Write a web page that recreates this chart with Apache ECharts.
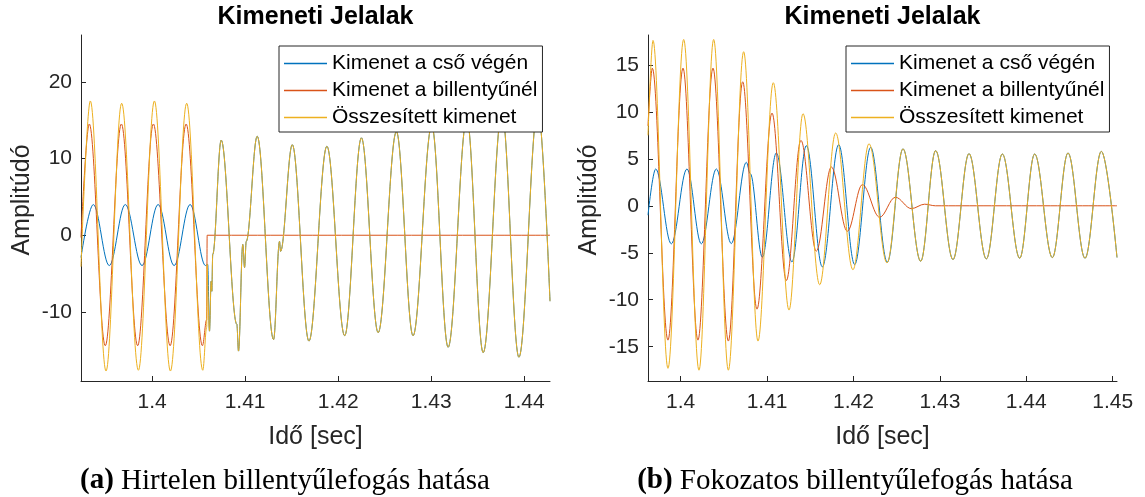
<!DOCTYPE html>
<html>
<head>
<meta charset="utf-8">
<script src="https://cdn.jsdelivr.net/npm/echarts@6/dist/echarts.min.js"></script>
<style>
html,body{margin:0;padding:0;background:#fff;}
#c{width:1145px;height:497px;}
</style>
</head>
<body>
<div id="c"></div>
<script>
// ---------- texts ----------
const seriesNames = ['Kimenet a cső végén', 'Kimenet a billentyűnél', 'Összesített kimenet'];
const chartTitle = 'Kimeneti Jelalak';
const yName = 'Amplitúdó';
const xName = 'Idő [sec]';
const captionA = ['(a)', 'Hirtelen billentyűlefogás hatása'];
const captionB = ['(b)', 'Fokozatos billentyűlefogás hatása'];

// ---------- ticks ----------
const xTicksA = [1.40, 1.41, 1.42, 1.43, 1.44];
const xTicksB = [1.40, 1.41, 1.42, 1.43, 1.44, 1.45];
const yTicksA = [-10, 0, 10, 20];
const yTicksB = [-15, -10, -5, 0, 5, 10, 15];

// ---------- chart (a): [time s, amplitude] ----------
const aBluePre = [[1.39236,-2.9],[1.39368,4.0],[1.39540,-3.95],[1.39712,4.0],[1.39892,-3.95],
  [1.40065,4.0],[1.40237,-3.95],[1.40409,4.0],[1.40574,-3.95]];
const aOrange = [[1.39236,-0.3],[1.39325,14.5],[1.39497,-14.4],[1.39670,14.5],[1.39845,-14.4],
  [1.40014,14.5],[1.40194,-14.4],[1.40366,14.5],[1.40541,-14.4],[1.40587,-11.0],[1.40592,0],[1.44277,0]];
const aYellowPre = [[1.39236,-4.1],[1.39336,17.5],[1.39505,-17.7],[1.39673,17.2],[1.39853,-17.6],
  [1.40025,17.5],[1.40197,-17.7],[1.40372,17.2],[1.40545,-17.6],[1.40587,-12.0],[1.40592,-3.8]];
// after the key release the pipe-end output and the summed output coincide
const aRelease = [[1.40598,-3.8],[1.40617,-12.5],[1.40635,-6.0],[1.40642,-7.3],[1.40652,-2.5],
  [1.40743,12.4],[1.40911,-11.6],[1.40929,-15.1],[1.40975,-1.2],[1.40994,-4.2],[1.41012,-0.8],
  [1.41130,12.9],[1.41306,-13.6],[1.41370,-0.8],[1.41381,-2.1],[1.41507,11.8],[1.41686,-13.8],
  [1.41879,11.6],[1.42070,-13.1],[1.42250,12.7],[1.42430,-12.7],[1.42626,13.5],[1.42805,-13.1],
  [1.43006,14.3],[1.43182,-14.6],[1.43383,15.2],[1.43559,-15.3],[1.43760,16.0],[1.43943,-15.9],
  [1.44147,16.6],[1.44277,-8.6]];

// ---------- chart (b): [time s, amplitude] ----------
const bBluePre = [[1.39622,-1.0],[1.39711,3.92],[1.39892,-4.05],[1.40073,3.92],[1.40239,-4.05],
  [1.40413,3.92],[1.40586,-4.02],[1.40760,4.63],[1.40806,3.42],[1.40945,-5.47],[1.41107,5.62],
  [1.41288,-5.97],[1.41455,6.40],[1.41640,-6.50],[1.41829,6.50],[1.42014,-6.25],[1.42199,6.22],
  [1.42392,-6.0]];
const bOrange = [[1.39622,8.5],[1.39672,14.65],[1.39853,-14.3],[1.40027,14.65],[1.40200,-14.3],
  [1.40374,14.65],[1.40552,-14.4],[1.40718,13.2],[1.40883,-11.0],[1.41057,9.87],[1.41223,-7.95],
  [1.41392,6.96],[1.41570,-4.83],[1.41744,4.13],[1.41929,-2.71],[1.42103,2.25],[1.42303,-1.22],
  [1.42485,0.91],[1.42670,-0.30],[1.42824,0.17],[1.42950,0],[1.45050,0]];
const bYellowPre = [[1.39622,7.5],[1.39680,17.6],[1.39853,-17.3],[1.40035,17.7],[1.40212,-17.5],
  [1.40382,17.7],[1.40552,-17.5],[1.40729,16.4],[1.40895,-14.4],[1.41072,13.1],[1.41254,-11.1],
  [1.41416,9.8],[1.41609,-8.4],[1.41794,7.75],[1.41994,-6.8],[1.42180,6.6],[1.42388,-6.07]];
// once the key output has died out the pipe-end output and the summed output coincide
const bSteady = [[1.42573,6.06],[1.42778,-5.9],[1.42951,5.87],[1.43152,-5.72],[1.43337,5.55],
  [1.43538,-5.65],[1.43723,5.51],[1.43924,-5.58],[1.44097,5.51],[1.44302,-5.51],[1.44483,5.62],
  [1.44680,-5.58],[1.44869,5.79],[1.45050,-5.5]];

// ---------- styling ----------
const colors = ['#0072BD', '#D95319', '#EDB120'];
const axisColor = '#262626';
const sans = 'Liberation Sans, Arial, Helvetica, sans-serif';
const serif = 'Liberation Serif, "Times New Roman", serif';

const gridA = {left: 81, top: 35, width: 469, height: 346};
const gridB = {left: 648, top: 35, width: 469, height: 346};

function xAxis(gi, min, max, ticks) {
  return {
    type: 'value', gridIndex: gi, min: min, max: max, position: 'bottom',
    axisLine: {show: true, onZero: false, lineStyle: {color: axisColor, width: 1}},
    axisTick: {show: true, inside: true, length: 5, customValues: ticks, lineStyle: {color: axisColor}},
    axisLabel: {customValues: ticks, margin: 11, fontSize: 21, fontFamily: sans, color: axisColor,
      formatter: v => String(Math.round(v * 100) / 100)},
    splitLine: {show: false}
  };
}
function yAxis(gi, min, max, ticks) {
  return {
    type: 'value', gridIndex: gi, min: min, max: max,
    axisLine: {show: true, onZero: false, lineStyle: {color: axisColor, width: 1}},
    axisTick: {show: true, inside: true, length: 5, customValues: ticks, lineStyle: {color: axisColor}},
    axisLabel: {customValues: ticks, margin: 9, fontSize: 21, fontFamily: sans, color: axisColor},
    splitLine: {show: false}
  };
}
function line(nameIdx, data, gi) {
  return {
    type: 'line', name: seriesNames[nameIdx], data: data, xAxisIndex: gi, yAxisIndex: gi,
    symbol: 'none', smooth: 0.36, smoothMonotone: 'x', clip: true,
    lineStyle: {color: colors[nameIdx], width: 1}, itemStyle: {color: colors[nameIdx]},
    emphasis: {disabled: true}
  };
}
function legend(left) {
  return {
    orient: 'vertical', left: left, top: 46, data: seriesNames,
    icon: 'rect', itemWidth: 43, itemHeight: 1.5, itemGap: 6, padding: [7, 5, 4, 5],
    borderColor: axisColor, borderWidth: 1, backgroundColor: '#fff',
    textStyle: {fontSize: 21, fontFamily: sans, color: '#000', lineHeight: 21},
    selectedMode: false
  };
}
function txt(x, y, text, font, fill, extra) {
  return Object.assign({type: 'text', x: x, y: y, silent: true,
    style: {text: text, font: font, fill: fill, textAlign: 'center', textVerticalAlign: 'middle'}}, extra || {});
}
function caption(cx, parts) {
  return {type: 'text', x: cx, y: 481, silent: true,
    style: {text: '{b|' + parts[0] + '} ' + parts[1], font: '29px ' + serif, fill: '#000',
      textAlign: 'center', textVerticalAlign: 'middle',
      rich: {b: {fontWeight: 'bold', fontSize: 29, fontFamily: serif, fill: '#000'}}}};
}

const chart = echarts.init(document.getElementById('c'), null, {renderer: 'canvas'});
chart.setOption({
  animation: false,
  backgroundColor: '#fff',
  grid: [gridA, gridB],
  xAxis: [xAxis(0, 1.39236, 1.44277, xTicksA), xAxis(1, 1.39622, 1.45050, xTicksB)],
  yAxis: [yAxis(0, -19.0, 26.1, yTicksA), yAxis(1, -18.65, 18.18, yTicksB)],
  legend: [legend(279), legend(846)],
  series: [
    line(0, aBluePre.concat(aRelease), 0),
    line(1, aOrange, 0),
    line(2, aYellowPre.concat(aRelease), 0),
    line(0, bBluePre.concat(bSteady), 1),
    line(1, bOrange, 1),
    line(2, bYellowPre.concat(bSteady), 1)
  ],
  graphic: [
    txt(315.5, 17, chartTitle, 'bold 25px ' + sans, '#000'),
    txt(882.5, 17, chartTitle, 'bold 25px ' + sans, '#000'),
    txt(22, 200, yName, '25px ' + sans, axisColor, {rotation: Math.PI / 2}),
    txt(589, 200, yName, '25px ' + sans, axisColor, {rotation: Math.PI / 2}),
    txt(315.5, 437, xName, '25px ' + sans, axisColor),
    txt(882.5, 437, xName, '25px ' + sans, axisColor),
    caption(285, captionA),
    caption(855, captionB)
  ]
});
</script>
</body>
</html>
